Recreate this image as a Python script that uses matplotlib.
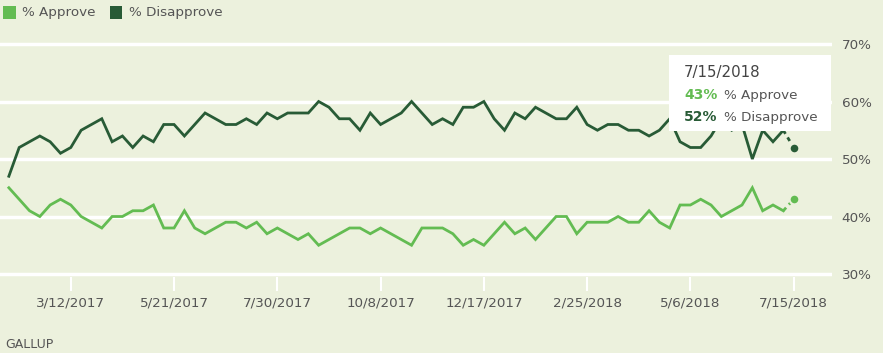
import numpy as np
import pandas as pd
import matplotlib.pyplot as plt
from matplotlib.patches import Rectangle

# weekly Gallup job approval, week ending dates
dates = pd.date_range('2017-01-29', periods=77, freq='7D')

approve = [45, 43, 41, 40, 42, 43, 42, 40, 39, 38, 40, 40, 41, 41, 42, 38,
           38, 41, 38, 37, 38, 39, 39, 38, 39, 37, 38, 37, 36, 37, 35, 36,
           37, 38, 38, 37, 38, 37, 36, 35, 38, 38, 38, 37, 35, 36, 35, 37,
           39, 37, 38, 36, 38, 40, 40, 37, 39, 39, 39, 40, 39, 39, 41, 39,
           38, 42, 42, 43, 42, 40, 41, 42, 45, 41, 42, 41, 43]
disapprove = [47, 52, 53, 54, 53, 51, 52, 55, 56, 57, 53, 54, 52, 54, 53, 56,
              56, 54, 56, 58, 57, 56, 56, 57, 56, 58, 57, 58, 58, 58, 60, 59,
              57, 57, 55, 58, 56, 57, 58, 60, 58, 56, 57, 56, 59, 59, 60, 57,
              55, 58, 57, 59, 58, 57, 57, 59, 56, 55, 56, 56, 55, 55, 54, 55,
              57, 53, 52, 52, 54, 57, 55, 56, 50, 55, 53, 55, 52]

tick_dates = pd.to_datetime(['2017-03-12', '2017-05-21', '2017-07-30', '2017-10-08',
                             '2017-12-17', '2018-02-25', '2018-05-06', '2018-07-15'])
tick_labels = [f'{d.month}/{d.day}/{d.year}' for d in tick_dates]
y_ticks = [30, 40, 50, 60, 70]
y_labels = ['30%', '40%', '50%', '60%', '70%']

bg = '#ecf1dd'
c_app = '#63bc52'
c_dis = '#285b36'
grey = '#555555'

fig = plt.figure(figsize=(8.83, 3.53), dpi=100)
fig.patch.set_facecolor(bg)
ax = fig.add_axes([0, 61.75 / 353, 832 / 883, 264.5 / 353])
ax.set_facecolor(bg)
ax.set_ylim(27, 73)
ax.set_xlim(dates[0] - pd.Timedelta(days=6), dates[-1] + pd.Timedelta(days=26))
for s in ax.spines.values():
    s.set_visible(False)

ax.set_yticks(y_ticks)
ax.set_yticklabels(y_labels)
ax.yaxis.tick_right()
ax.tick_params(axis='y', length=0, pad=7, labelsize=9.7, labelcolor=grey)
ax.grid(axis='y', color='white', lw=2.5)
ax.set_axisbelow(True)

ax.set_xticks(tick_dates)
ax.set_xticklabels(tick_labels)
ax.tick_params(axis='x', direction='in', length=10, width=1.5, color='white',
               pad=4, labelsize=9.7, labelcolor=grey)

for vals, col in [(approve, c_app), (disapprove, c_dis)]:
    ax.plot(dates[:-1], vals[:-1], color=col, lw=2, solid_joinstyle='miter')
    ax.plot(dates[-2:], vals[-2:], color=col, lw=2, ls=(0, (1.5, 1.5)))
    ax.plot(dates[-1], vals[-1], 'o', ms=7, color=col, mec=bg, mew=1.5)

# tooltip
fig.add_artist(Rectangle((669 / 883, 1 - 131 / 353), 162 / 883, 76 / 353,
                         transform=fig.transFigure, fc='white', ec='none', zorder=5))
last = dates[-1]
fig.text(684 / 883, 1 - 72.5 / 353, f'{last.month}/{last.day}/{last.year}',
         fontsize=10.8, color='#444444', va='center', zorder=6)
fig.text(684 / 883, 1 - 95 / 353, f'{approve[-1]}%', fontsize=10, fontweight='bold',
         color=c_app, va='center', zorder=6)
fig.text(724 / 883, 1 - 95 / 353, '% Approve', fontsize=9.7, color=grey,
         va='center', zorder=6)
fig.text(684 / 883, 1 - 117 / 353, f'{disapprove[-1]}%', fontsize=10, fontweight='bold',
         color=c_dis, va='center', zorder=6)
fig.text(724 / 883, 1 - 117 / 353, '% Disapprove', fontsize=9.7, color=grey,
         va='center', zorder=6)

# legend
fig.add_artist(Rectangle((3 / 883, 1 - 18.5 / 353), 12.5 / 883, 12 / 353,
                         transform=fig.transFigure, fc=c_app, ec='none'))
fig.text(22.5 / 883, 1 - 12.5 / 353, '% Approve', fontsize=9.7, color=grey, va='center')
fig.add_artist(Rectangle((109.5 / 883, 1 - 18.5 / 353), 12.5 / 883, 12 / 353,
                         transform=fig.transFigure, fc=c_dis, ec='none'))
fig.text(129 / 883, 1 - 12.5 / 353, '% Disapprove', fontsize=9.7, color=grey, va='center')

fig.text(5 / 883, 1 - 345 / 353, 'GALLUP', fontsize=9, color=grey, va='center')

fig.savefig('out.png', dpi=100, facecolor=bg)
